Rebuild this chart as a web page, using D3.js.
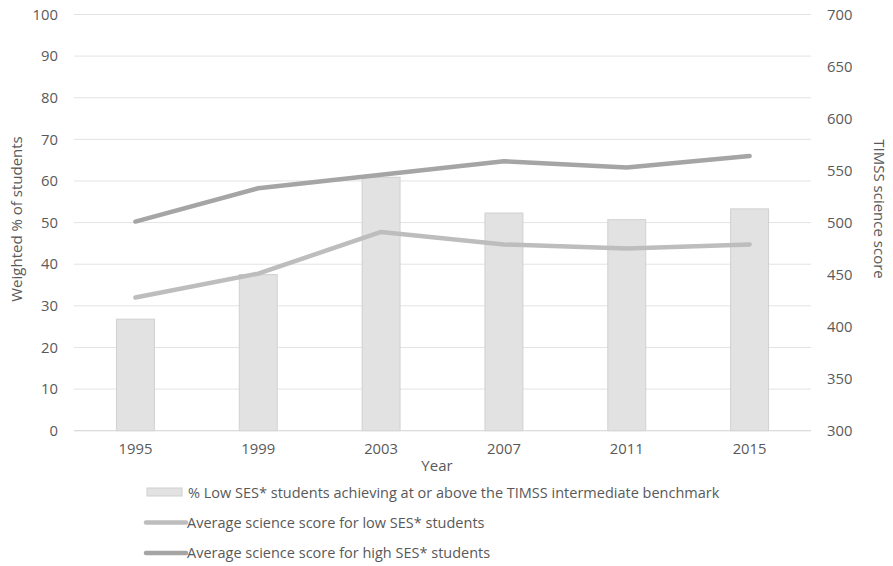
<!DOCTYPE html>
<html>
<head>
<meta charset="utf-8">
<script src="https://cdn.jsdelivr.net/npm/d3@7"></script>
<style>
  html, body { margin: 0; padding: 0; background: #fff; }
  svg { display: block; font-family: "Open Sans", "Noto Sans", sans-serif; }
</style>
</head>
<body>
<svg id="chart" width="893" height="566"></svg>
<script>
const years = ["1995", "1999", "2003", "2007", "2011", "2015"];
const pctLowSES = [26.8, 37.5, 60.9, 52.3, 50.7, 53.3];
const scoreLowSES = [428, 451, 491, 479, 475, 479];
const scoreHighSES = [501, 533, 546, 559, 553, 564];
const leftTicks = [0, 10, 20, 30, 40, 50, 60, 70, 80, 90, 100];
const rightTicks = [300, 350, 400, 450, 500, 550, 600, 650, 700];
const legendLabels = [
  "% Low SES* students achieving at or above the TIMSS intermediate benchmark",
  "Average science score for low SES* students",
  "Average science score for high SES* students"
];

const svg = d3.select("#chart");
const pLeft = 74, pRight = 811, pTop = 14.5, pBottom = 430.7;
const textColor = "#595959";
const tickFont = 14.8;
const legendFont = 14.5;
const titleFont = 15;

const x = d3.scaleBand().domain(years).range([pLeft, pRight]).paddingInner(0.683).paddingOuter(0.3415);
const yL = d3.scaleLinear().domain([0, 100]).range([pBottom, pTop]);
const yR = d3.scaleLinear().domain([300, 700]).range([pBottom, pTop]);

// gridlines
svg.append("g").selectAll("line").data(leftTicks).join("line")
  .attr("x1", pLeft).attr("x2", pRight)
  .attr("y1", d => yL(d)).attr("y2", d => yL(d))
  .attr("stroke", "#e3e3e3").attr("stroke-width", 1);

// left axis
const gL = svg.append("g").attr("transform", `translate(${pLeft},0)`)
  .call(d3.axisLeft(yL).tickValues(leftTicks).tickSize(0).tickPadding(16));
gL.select(".domain").remove();
gL.selectAll("text").attr("fill", textColor).attr("font-size", tickFont)
  .attr("font-family", "'Open Sans', sans-serif");

// right axis
const gR = svg.append("g").attr("transform", `translate(${pRight},0)`)
  .call(d3.axisRight(yR).tickValues(rightTicks).tickSize(0).tickPadding(16));
gR.select(".domain").remove();
gR.selectAll("text").attr("fill", textColor).attr("font-size", tickFont)
  .attr("font-family", "'Open Sans', sans-serif");

// bars
svg.append("g").selectAll("rect").data(years).join("rect")
  .attr("x", d => x(d) + 0.5)
  .attr("y", (d, i) => yL(pctLowSES[i]))
  .attr("width", x.bandwidth() - 1)
  .attr("height", (d, i) => yL(0) - yL(pctLowSES[i]))
  .attr("fill", "#e2e2e2").attr("stroke", "#d0d0d0").attr("stroke-width", 1);

// baseline
svg.append("line").attr("x1", pLeft).attr("x2", pRight)
  .attr("y1", pBottom).attr("y2", pBottom).attr("stroke", "#d9d9d9").attr("stroke-width", 1);

// x axis
const gX = svg.append("g").attr("transform", `translate(0,${pBottom})`)
  .call(d3.axisBottom(x).tickSize(0).tickPadding(13));
gX.select(".domain").remove();
gX.selectAll("text").attr("fill", textColor).attr("font-size", tickFont)
  .attr("font-family", "'Open Sans', sans-serif");

// lines
const line = d3.line().x((d, i) => x(years[i]) + x.bandwidth() / 2).y(d => yR(d));
svg.append("path").datum(scoreLowSES).attr("d", line)
  .attr("fill", "none").attr("stroke", "#bdbdbd").attr("stroke-width", 4.5)
  .attr("stroke-linecap", "round").attr("stroke-linejoin", "round");
svg.append("path").datum(scoreHighSES).attr("d", line)
  .attr("fill", "none").attr("stroke", "#a5a5a5").attr("stroke-width", 4.5)
  .attr("stroke-linecap", "round").attr("stroke-linejoin", "round");

// axis titles
svg.append("text").attr("transform", `translate(22,219) rotate(-90)`)
  .attr("text-anchor", "middle").attr("fill", textColor).attr("font-size", titleFont)
  .text("Weighted % of students");
svg.append("text").attr("transform", `translate(874,209) rotate(90)`)
  .attr("text-anchor", "middle").attr("fill", textColor).attr("font-size", titleFont)
  .text("TIMSS science score");
svg.append("text").attr("x", 437).attr("y", 471)
  .attr("text-anchor", "middle").attr("fill", textColor).attr("font-size", titleFont)
  .text("Year");

// legend
const lg = svg.append("g");
lg.append("rect").attr("x", 147).attr("y", 488).attr("width", 35).attr("height", 8)
  .attr("fill", "#e2e2e2").attr("stroke", "#d0d0d0").attr("stroke-width", 1);
lg.append("text").attr("x", 188).attr("y", 497.5).attr("fill", textColor).attr("font-size", legendFont)
  .text(legendLabels[0]);
lg.append("line").attr("x1", 146).attr("x2", 186).attr("y1", 522.5).attr("y2", 522.5)
  .attr("stroke", "#bdbdbd").attr("stroke-width", 4.5).attr("stroke-linecap", "round");
lg.append("text").attr("x", 187).attr("y", 528).attr("fill", textColor).attr("font-size", legendFont)
  .text(legendLabels[1]);
lg.append("line").attr("x1", 146).attr("x2", 186).attr("y1", 553).attr("y2", 553)
  .attr("stroke", "#a5a5a5").attr("stroke-width", 4.5).attr("stroke-linecap", "round");
lg.append("text").attr("x", 187).attr("y", 558).attr("fill", textColor).attr("font-size", legendFont)
  .text(legendLabels[2]);
</script>
</body>
</html>
